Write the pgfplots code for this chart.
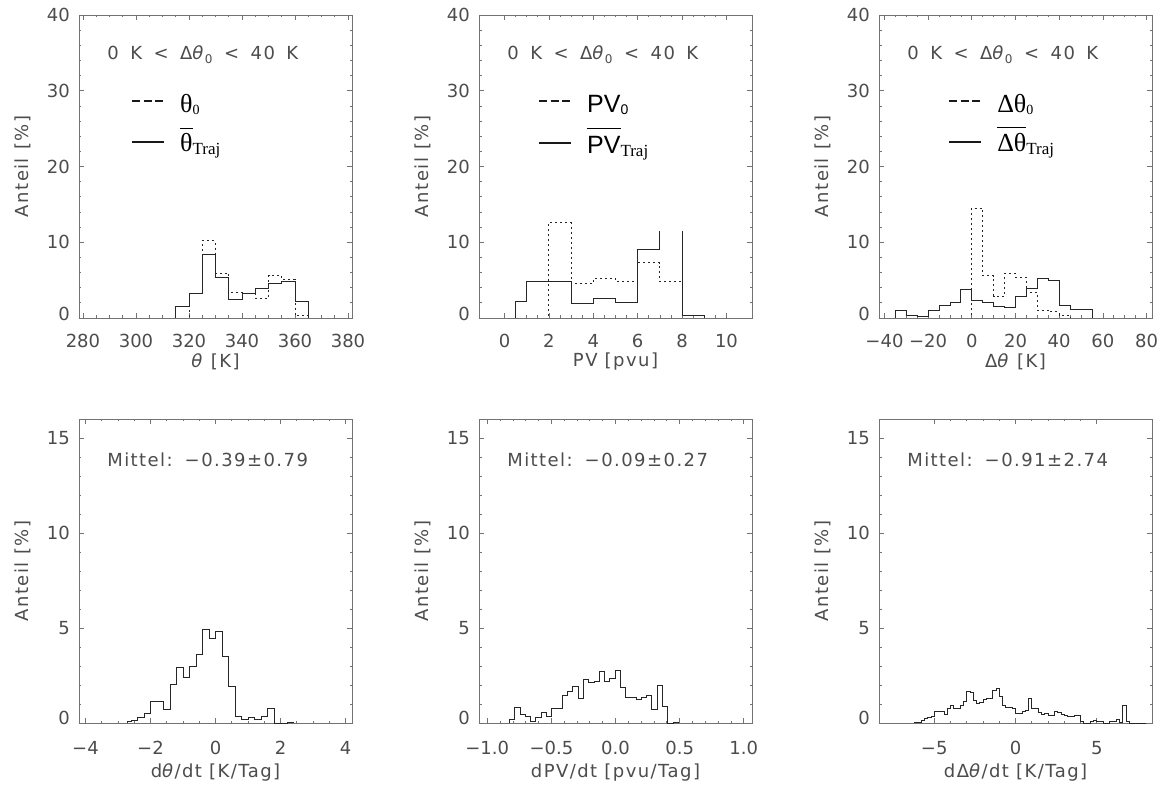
\documentclass[border=0pt]{standalone}
\usepackage{fontspec}
\setmainfont{DejaVu Sans}
\newfontfamily\tickfont{DejaVu Sans}
\newfontfamily\labfont{DejaVu Sans}[LetterSpace=8]
\newfontfamily\serif{Liberation Serif}
\newfontfamily\plainsans{Liberation Sans}
\usepackage{pgfplots}
\pgfplotsset{compat=1.18}

\newcommand\fs[1]{\fontsize{#1}{#1}\selectfont}
\newcommand\gp{\hspace{11.5pt}}

\tikzset{annot/.style={anchor=west, font=\labfont\fs{18}, text=black!70, inner sep=0pt}}

\pgfplotsset{
  hbase/.style={
    scale only axis, width=273pt,
    axis line style={draw=black!55, line width=0.8pt},
    tick style={draw=black!55, line width=0.7pt},
    tick align=inside,
    xtick pos=both, ytick pos=both,
    xticklabel pos=lower, yticklabel pos=left,
    major tick length=5pt, minor tick length=2.5pt,
    tick label style={font=\tickfont\fs{18}, text=black!70, inner sep=0pt},
    yticklabel style={anchor=east, xshift=-9pt},
    label style={font=\labfont\fs{18}, text=black!70},
    ylabel style={at={(axis description cs:-0.207,0.5)}, anchor=center},
    ylabel={Anteil\hspace{8pt}[\%]},
    legend cell align=left,
    legend style={draw=none, fill=none, inner sep=0pt, outer sep=0pt,
      nodes={inner sep=0pt, outer sep=0pt}, row sep=17pt, column sep=15pt,
      anchor=north west},
  },
  toprow/.style={hbase, height=303pt, ymin=0, ymax=40, ytick={0,10,20,30,40},
    yticklabels={\raisebox{4pt}[\height][0pt]{0},10,20,30,40}, minor y tick num=4,
    xticklabel style={anchor=center, yshift=-22.5pt},
    xlabel style={at={(axis description cs:0.5,-0.145)}, anchor=center}},
  botrow/.style={hbase, height=304pt, ymin=0, ymax=16, ytick={0,5,10,15},
    yticklabels={\raisebox{5pt}[\height][0pt]{0},5,10,15}, minor y tick num=4,
    xticklabel style={anchor=center, yshift=-25pt},
    xlabel style={at={(axis description cs:0.5,-0.164)}, anchor=center}},
  dothist/.style={const plot, black!85, line width=0.9pt, dash pattern=on 2pt off 3pt},
  solhist/.style={const plot, black!85, line width=0.9pt},
  dashkey/.style={legend image code/.code={\draw[black!90, line width=2.2pt, dash pattern=on 8pt off 3.5pt] (0pt,0pt) -- (31pt,0pt);}},
  solkey/.style={legend image code/.code={\draw[black!90, line width=2.2pt, solid] (0pt,0pt) -- (32pt,0pt);}},
}

\begin{document}
\begin{tikzpicture}
\useasboundingbox (0pt,0pt) rectangle (1165pt,785pt);

% ---------- Panel 1: theta ----------
\begin{axis}[toprow, at={(79pt,467pt)}, anchor=south west,
  xmin=278.5, xmax=381.5, xtick={280,300,320,340,360,380},
  xticklabels={280,300,320,340,360,380}, minor x tick num=3,
  xlabel={\textit{θ} [K]},
  legend style={at={(axis description cs:0.1905,0.7624)}}]
\addplot[dothist, dashkey] coordinates {(282.5,0) (320,3.3) (325,10.2) (330,5.9) (335,3.4) (340,3.3) (345,2.6) (350,5.6) (355,5.1) (360,0.3) (365,0) (377.5,0)};
\addlegendentry{\raisebox{0pt}[26pt][0pt]{\serif\fs{26}θ\raisebox{-2pt}{\fs{14}0}}}
\addplot[solhist, solkey] coordinates {(282.5,0) (315,1.5) (320,3.2) (325,8.4) (330,5.3) (335,2.5) (340,3.2) (345,3.9) (350,4.5) (355,4.8) (360,2.2) (365,0) (377.5,0)};
\addlegendentry{\raisebox{0pt}[20pt][4pt]{\serif\fs{26}$\overline{\hbox{θ\rule{0pt}{22pt}}}$\raisebox{-3pt}{\fs{17}Traj}}}
\node[annot] at (axis description cs:0.103,0.868) {0\gp K\gp <\gp Δ\textit{θ}\raisebox{-4pt}{\fs{12}0}\gp <\gp 40\gp K};
\end{axis}

% ---------- Panel 2: PV ----------
\begin{axis}[toprow, at={(479pt,467pt)}, anchor=south west,
  xmin=-1.15, xmax=11.15, xtick={0,2,4,6,8,10},
  xticklabels={0,2,4,6,8,10}, minor x tick num=3,
  xlabel={PV [pvu]},
  legend style={at={(axis description cs:0.216,0.7624)}}]
\addplot[dothist, dashkey] coordinates {(0.5,0) (2,12.6) (3,4.6) (4,5.2) (5,4.8) (6,7.3) (7,4.8) (8,0) (9.5,0)};
\addlegendentry{\raisebox{0pt}[26pt][0pt]{\plainsans\fs{25}PV\raisebox{-2pt}{\fs{14}0}}}
\addplot[solhist, solkey] coordinates {(0.5,0) (0.5,2.2) (1,4.8) (2,4.8) (3,1.9) (4,2.6) (5,2.0) (6,9.0) (7,11.5)};
\addlegendentry{\raisebox{0pt}[22pt][2pt]{\plainsans\fs{25}$\overline{\hbox{PV\rule{0pt}{24pt}}}$\raisebox{-3pt}{\serif\fs{17}Traj}}}
\addplot[solhist, forget plot] coordinates {(8,11.5) (8,0.35) (9,0.35) (9,0)};
\node[annot] at (axis description cs:0.103,0.868) {0\gp K\gp <\gp Δ\textit{θ}\raisebox{-4pt}{\fs{12}0}\gp <\gp 40\gp K};
\end{axis}

% ---------- Panel 3: Delta theta ----------
\begin{axis}[toprow, at={(879pt,467pt)}, anchor=south west,
  xmin=-42.5, xmax=82.5, xtick={-40,-20,0,20,40,60,80},
  xticklabels={−40,−20,0,20,40,60,80}, minor x tick num=3,
  xlabel={Δ\textit{θ} [K]},
  legend style={at={(axis description cs:0.253,0.7624)}}]
\addplot[dothist, dashkey] coordinates {(-40,0) (0,14.5) (5,5.6) (10,2.9) (15,5.9) (20,5.4) (25,3.4) (30,1.0) (35,0.8) (40,0.4) (45,0) (77.5,0)};
\addlegendentry{\raisebox{0pt}[26pt][0pt]{\serif\fs{26}Δθ\raisebox{-2pt}{\fs{14}0}}}
\addplot[solhist, solkey] coordinates {(-40,0) (-35,1.0) (-30,0.35) (-25,0.2) (-20,1.0) (-15,1.7) (-10,2.0) (-5,3.8) (0,2.3) (5,2.1) (10,1.55) (15,1.4) (20,2.9) (25,3.85) (30,5.25) (35,4.95) (40,1.7) (45,1.1) (50,1.1) (55,0) (77.5,0)};
\addlegendentry{\raisebox{0pt}[20pt][4pt]{\serif\fs{26}$\overline{\hbox{Δθ\rule{0pt}{23pt}}}$\raisebox{-3pt}{\fs{17}Traj}}}
\node[annot] at (axis description cs:0.103,0.868) {0\gp K\gp <\gp Δ\textit{θ}\raisebox{-4pt}{\fs{12}0}\gp <\gp 40\gp K};
\end{axis}

% ---------- Panel 4: dtheta/dt ----------
\begin{axis}[botrow, at={(79pt,62pt)}, anchor=south west,
  xmin=-4.2, xmax=4.2, xtick={-4,-2,0,2,4},
  xticklabels={−4,−2,0,2,4}, minor x tick num=3,
  xlabel={d\textit{θ}/dt [K/Tag]}]
\addplot[solhist] coordinates {(-2.7,0) (-2.7,0.07) (-2.6,0.16) (-2.4,0.28) (-2.2,0.5) (-2.0,1.12) (-1.6,0.72) (-1.4,2.05) (-1.2,2.95) (-1.0,2.42) (-0.8,3.0) (-0.6,3.6) (-0.4,4.92) (-0.2,4.45) (0,4.83) (0.2,3.5) (0.4,1.93) (0.6,0.36) (0.8,0.19) (1.0,0.29) (1.2,0.19) (1.4,0.36) (1.6,0.78) (1.8,0) (2.2,0.04) (2.4,0)};
\node[annot] at (axis description cs:0.103,0.865) {Mittel:\hspace{12pt}−0.39±0.79};
\end{axis}

% ---------- Panel 5: dPV/dt ----------
\begin{axis}[botrow, at={(479pt,62pt)}, anchor=south west,
  xmin=-1.064, xmax=1.064, xtick={-1,-0.5,0,0.5,1},
  xticklabels={−1.0,−0.5,0.0,0.5,1.0}, minor x tick num=4,
  xlabel={dPV/dt [pvu/Tag]}]
\addplot[solhist] coordinates {(-0.826,0) (-0.826,0.21) (-0.785,0.8) (-0.744,0.46) (-0.703,0.33) (-0.662,0.07) (-0.621,0.28) (-0.579,0.56) (-0.538,0.33) (-0.497,0.75) (-0.456,0.75) (-0.415,1.47) (-0.374,1.68) (-0.333,1.9) (-0.292,1.3) (-0.251,2.3) (-0.210,2.12) (-0.168,2.18) (-0.127,2.7) (-0.086,2.18) (-0.045,2.35) (-0.004,2.75) (0.037,1.86) (0.078,1.35) (0.119,1.35) (0.160,1.26) (0.201,1.33) (0.243,1.47) (0.284,0.72) (0.325,1.96) (0.366,0.86) (0.407,0) (0.449,0.04) (0.490,0)};
\node[annot] at (axis description cs:0.103,0.865) {Mittel:\hspace{12pt}−0.09±0.27};
\end{axis}

% ---------- Panel 6: dDelta theta/dt ----------
\begin{axis}[botrow, at={(879pt,62pt)}, anchor=south west,
  xmin=-8.4, xmax=8.4, xtick={-5,0,5},
  xticklabels={−5,0,5}, minor x tick num=4,
  xlabel={dΔ\textit{θ}/dt [K/Tag]}]
\addplot[solhist] coordinates {(-6.2,0) (-6.2,0.04) (-6.0,0.04) (-5.8,0.16) (-5.6,0.26) (-5.4,0.3) (-5.2,0.37) (-5.0,0.6) (-4.8,0.6) (-4.6,0.63) (-4.4,0.46) (-4.2,0.77) (-4.0,0.9) (-3.8,0.74) (-3.6,0.74) (-3.4,0.95) (-3.2,1.12) (-3.0,1.65) (-2.8,1.6) (-2.6,1.2) (-2.4,1.03) (-2.2,1.1) (-2.0,1.26) (-1.8,1.3) (-1.6,1.3) (-1.4,1.7) (-1.2,1.8) (-1.0,1.4) (-0.8,0.91) (-0.6,0.81) (-0.4,0.8) (-0.2,0.77) (0.0,0.5) (0.2,0.5) (0.4,0.6) (0.6,0.65) (0.8,1.3) (1.0,0.77) (1.2,0.75) (1.4,0.55) (1.6,0.45) (1.8,0.5) (2.0,0.42) (2.2,0.42) (2.4,0.6) (2.6,0.55) (2.8,0.45) (3.0,0.38) (3.2,0.33) (3.4,0.33) (3.6,0.42) (3.8,0.42) (4.0,0.1) (4.2,0) (4.6,0.07) (4.8,0.14) (5.0,0.07) (5.2,0.07) (5.4,0) (5.8,0.1) (6.0,0.1) (6.2,0.18) (6.4,0.04) (6.6,0.9) (6.8,0.1) (7.0,0) (8.0,0)};
\node[annot] at (axis description cs:0.103,0.865) {Mittel:\hspace{12pt}−0.91±2.74};
\end{axis}
\end{tikzpicture}
\end{document}
